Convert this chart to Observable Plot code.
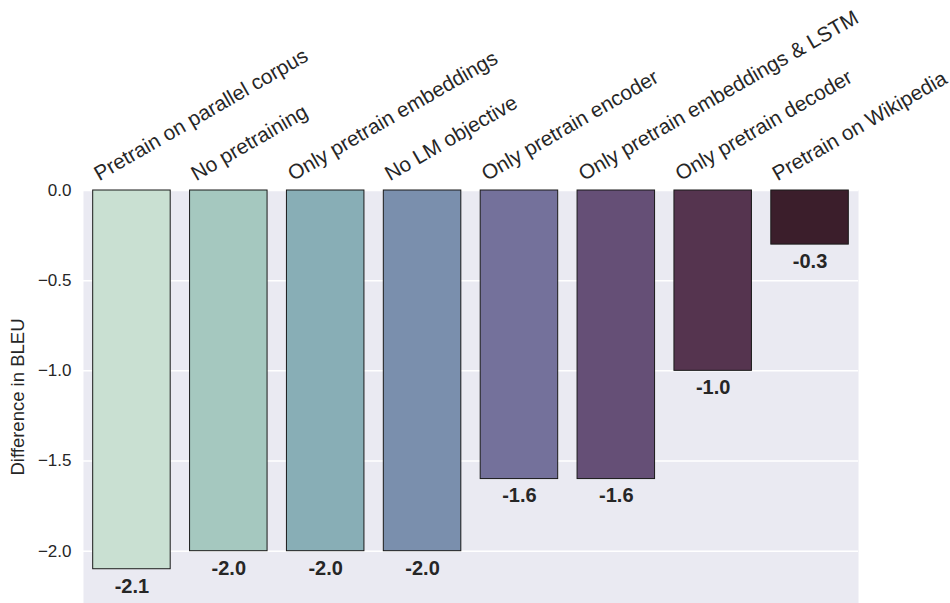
<!DOCTYPE html>
<html>
<head>
<meta charset="utf-8">
<script src="https://cdn.jsdelivr.net/npm/d3@7"></script>
<script src="https://cdn.jsdelivr.net/npm/@observablehq/plot@0.6"></script>
<style>
  html, body { margin: 0; padding: 0; background: #ffffff; }
  #chart svg { display: block; }
</style>
</head>
<body>
<div id="chart"></div>
<script>
const categories = [
  "Pretrain on parallel corpus",
  "No pretraining",
  "Only pretrain embeddings",
  "No LM objective",
  "Only pretrain encoder",
  "Only pretrain embeddings & LSTM",
  "Only pretrain decoder",
  "Pretrain on Wikipedia"
];
const values = [-2.1, -2.0, -2.0, -2.0, -1.6, -1.6, -1.0, -0.3];
const colors = ["#c9e0d2", "#a5c8bf", "#88aeb6", "#7a8fad", "#74719b", "#654f76", "#55344f", "#3b1e2b"];
const yTicks = [0, -0.5, -1.0, -1.5, -2.0];
const yLabel = "Difference in BLEU";

const data = categories.map((c, i) => ({category: c, value: values[i], color: colors[i]}));
const font = "'Liberation Sans', Arial, sans-serif";

const chart = Plot.plot({
  width: 950,
  height: 603,
  marginTop: 190,
  marginBottom: 0,
  marginLeft: 83,
  marginRight: 92,
  style: {fontFamily: font, fontSize: "17px", color: "#262626", background: "#ffffff"},
  x: {domain: categories, paddingInner: 0.2, paddingOuter: 0.1, round: false, axis: null},
  y: {domain: [-2.29, 0], ticks: yTicks, tickFormat: d3.format(".1f"), label: null, tickSize: 0, tickPadding: 12},
  marks: [
    Plot.frame({fill: "#eaeaf2", stroke: null}),
    Plot.gridY(yTicks, {stroke: "#ffffff", strokeOpacity: 1, strokeWidth: 1.5}),
    Plot.axisY({ticks: yTicks, tickFormat: d3.format(".1f"), tickSize: 0, tickPadding: 12, label: null, fontSize: 17}),
    Plot.barY(data, {x: "category", y: "value", fill: "color", stroke: "#1a1a1a", strokeWidth: 1}),
    Plot.text(data, {x: "category", y: "value", text: d => d.value.toFixed(1), dy: 17, fontWeight: "bold", fontSize: 20, fill: "#262626", lineAnchor: "middle"}),
    Plot.text(data, {x: "category", y: () => 0, text: "category", rotate: -30, textAnchor: "start", lineAnchor: "middle", dx: -36, dy: -15, fontSize: 20.8, fill: "#262626"}),
    Plot.text([yLabel], {frameAnchor: "left", text: d => d, rotate: -90, dx: -65, textAnchor: "middle", fontSize: 18.5, fill: "#262626"})
  ]
});
document.getElementById("chart").appendChild(chart);
</script>
</body>
</html>
